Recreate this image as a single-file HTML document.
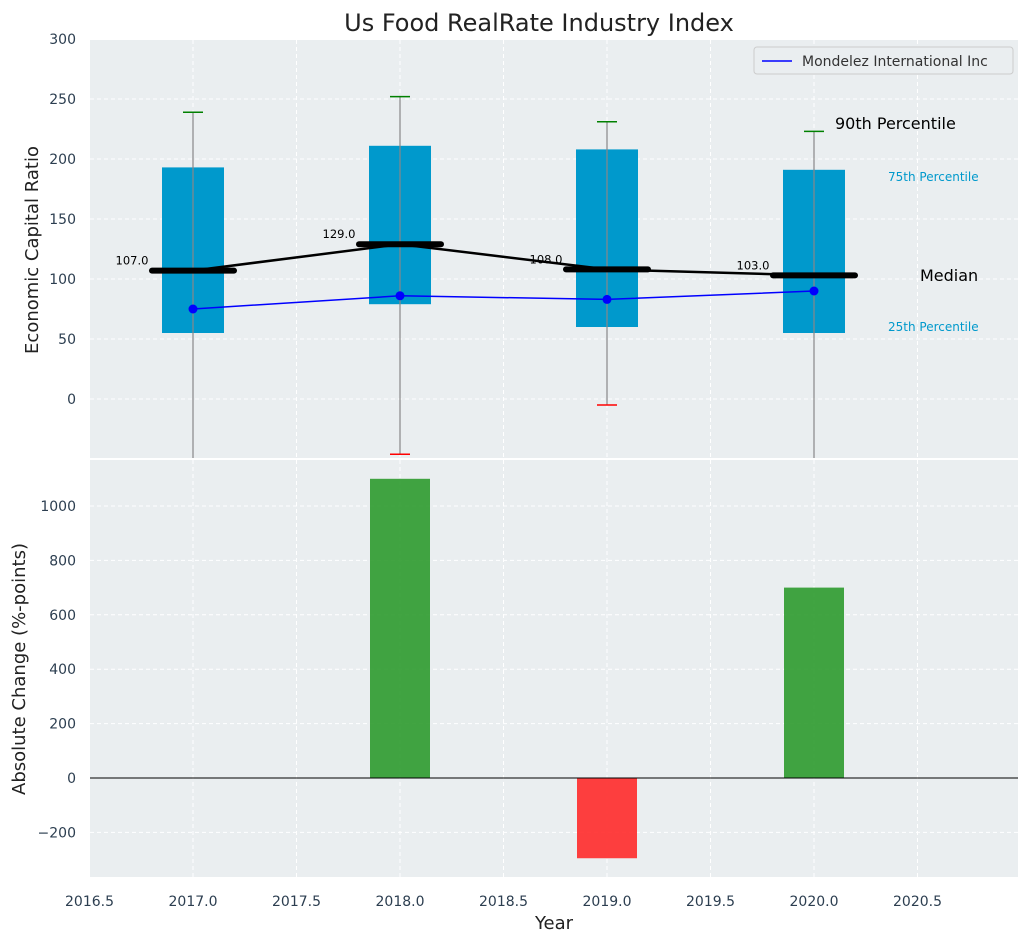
<!DOCTYPE html>
<html><head><meta charset="utf-8"><style>
body{margin:0;background:#fff;font-family:"Liberation Sans","DejaVu Sans",sans-serif}
</style></head><body>
<svg id="c" width="1029" height="942" xmlns="http://www.w3.org/2000/svg" font-family="DejaVu Sans, Liberation Sans, sans-serif"></svg>
<script>
const years=[2017,2018,2019,2020];
const q25=[55,79,60,55];
const q75=[193,211,208,191];
const p10=[-60,-46,-5,-60];
const p90=[239,252,231,223];
const medians=[107,129,108,103];
const company=[75,86,83,90];
const changes=[0,1100,-295,700];
const xTicks=[2016.5,2017,2017.5,2018,2018.5,2019,2019.5,2020,2020.5];
const yTopTicks=[0,50,100,150,200,250,300];
const yBotTicks=[-200,0,200,400,600,800,1000];

const NS="http://www.w3.org/2000/svg";
const svg=document.getElementById('c');
function el(t,a,p){const e=document.createElementNS(NS,t);for(const k in a)e.setAttribute(k,a[k]);(p||svg).appendChild(e);return e;}
const X0=90,X1=1018;
const sx=v=>193+(v-2017)*207;
const syT=v=>399-v*1.2;
const syB=v=>778-v*0.272;
const T0=40,T1=458,B0=460,B1=877;

// backgrounds
let r=el('rect',{x:X0,y:T0,width:X1-X0,height:T1-T0,fill:'#eaeef0'});

r=el('rect',{x:X0,y:B0,width:X1-X0,height:B1-B0,fill:'#eaeef0'});


// grids
xTicks.forEach(v=>{
  el('line',{x1:sx(v),x2:sx(v),y1:T0,y2:T1,stroke:'#fff','stroke-dasharray':'4,3','stroke-width':1});
  el('line',{x1:sx(v),x2:sx(v),y1:B0,y2:B1,stroke:'#fff','stroke-dasharray':'4,3','stroke-width':1});
  const t=el('text',{x:sx(v),y:906,'text-anchor':'middle','font-size':14,fill:'#2c3e50'});t.textContent=v.toFixed(1);
  
});
yTopTicks.forEach(v=>{
  el('line',{x1:X0,x2:X1,y1:syT(v),y2:syT(v),stroke:'#fff','stroke-dasharray':'4,3'});
  const t=el('text',{x:76,y:syT(v)+5,'text-anchor':'end','font-size':14,fill:'#2c3e50'});t.textContent=v;
  
});
yBotTicks.forEach(v=>{
  el('line',{x1:X0,x2:X1,y1:syB(v),y2:syB(v),stroke:'#fff','stroke-dasharray':'4,3'});
  const t=el('text',{x:76,y:syB(v)+5,'text-anchor':'end','font-size':14,fill:'#2c3e50'});t.textContent=(v<0?'\u2212'+(-v):v);
  
});

// top chart clip
const defs=el('defs',{});
const cp=el('clipPath',{id:'ct'},defs);el('rect',{x:X0,y:T0,width:X1-X0,height:T1-T0},cp);
const g=el('g',{'clip-path':'url(#ct)'});

years.forEach((y,i)=>{
  const b=el('rect',{x:sx(y)-31,y:syT(q75[i]),width:62,height:syT(q25[i])-syT(q75[i]),fill:'#0099cc'},g);
  
  el('line',{x1:sx(y),x2:sx(y),y1:syT(p90[i]),y2:syT(p10[i]),stroke:'#888','stroke-width':1.2},g);
  el('line',{x1:sx(y)-10,x2:sx(y)+10,y1:syT(p90[i]),y2:syT(p90[i]),stroke:'green','stroke-width':1.5},g);
  el('line',{x1:sx(y)-10,x2:sx(y)+10,y1:syT(p10[i]),y2:syT(p10[i]),stroke:'red','stroke-width':1.5},g);
});
el('polyline',{points:years.map((y,i)=>sx(y)+','+syT(medians[i])).join(' '),fill:'none',stroke:'#000','stroke-width':2.5},g);
years.forEach((y,i)=>{
  const m=el('line',{x1:sx(y)-41,x2:sx(y)+41,y1:syT(medians[i]),y2:syT(medians[i]),stroke:'#000','stroke-width':6,'stroke-linecap':'round'},g);
  
  const t=el('text',{x:sx(y)-61,y:syT(medians[i])-6,'text-anchor':'middle','font-size':11.5,fill:'#000'});t.textContent=medians[i].toFixed(1);
  
});
el('polyline',{points:years.map((y,i)=>sx(y)+','+syT(company[i])).join(' '),fill:'none',stroke:'blue','stroke-width':1.5},g);
years.forEach((y,i)=>{
  const c=el('circle',{cx:sx(y),cy:syT(company[i]),r:4.5,fill:'blue'},g);
  
});

// annotations
[['90th Percentile',835,129,16,'#000'],['75th Percentile',888,181,12,'#0099cc'],['Median',920,281,16,'#000'],['25th Percentile',888,331,12,'#0099cc']].forEach(a=>{
  const t=el('text',{x:a[1],y:a[2],'font-size':a[3],fill:a[4]});t.textContent=a[0];
  
});

// legend
const lg=el('g',{});
el('rect',{x:754,y:47,width:259,height:27,fill:'#eaeef0',stroke:'#ccc',rx:3},lg);
el('line',{x1:762,x2:792,y1:61,y2:61,stroke:'blue','stroke-width':1.5},lg);
const lt=el('text',{x:802,y:66,'font-size':14,fill:'#333'},lg);lt.textContent='Mondelez International Inc';

// bars
changes.forEach((v,i)=>{
  if(v===0)return;
  const y0=syB(Math.max(v,0)),y1=syB(Math.min(v,0));
  const b=el('rect',{x:sx(years[i])-30,y:y0,width:60,height:y1-y0,fill:v>0?'#2e9a2e':'#ff2a2a','fill-opacity':0.9});
  
});
el('line',{x1:X0,x2:X1,y1:syB(0),y2:syB(0),stroke:'#000','stroke-width':1});

// titles
let t=el('text',{x:539,y:31,'text-anchor':'middle','font-size':24,fill:'#222'});t.textContent='Us Food RealRate Industry Index';

t=el('text',{x:554,y:929,'text-anchor':'middle','font-size':18,fill:'#222'});t.textContent='Year';

t=el('text',{x:38,y:250,'text-anchor':'middle','font-size':18,fill:'#222',transform:'rotate(-90 38 250)'});t.textContent='Economic Capital Ratio';

t=el('text',{x:25,y:669,'text-anchor':'middle','font-size':18,fill:'#222',transform:'rotate(-90 25 669)'});t.textContent='Absolute Change (%-points)';

</script>
</body></html>
